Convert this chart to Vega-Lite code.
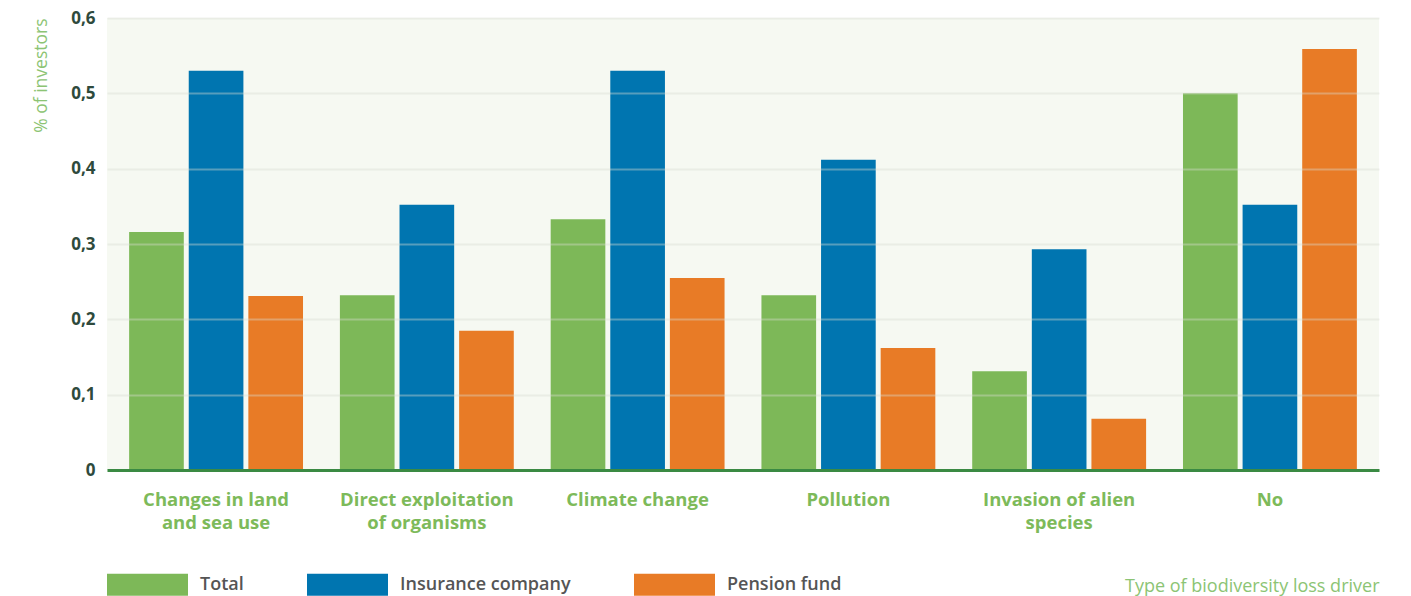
{
  "$schema": "https://vega.github.io/schema/vega-lite/v6.json",
  "width": 1272,
  "height": 452,
  "autosize": {"type": "none"},
  "padding": {"left": 107, "top": 18, "right": 32, "bottom": 126},
  "background": "#ffffff",
  "config": {
    "view": {"fill": "#f6f9f2", "stroke": null},
    "font": "Open Sans"
  },
  "data": {
    "values": [
      {"driver": "Changes in land and sea use", "type": "Total", "value": 0.316},
      {"driver": "Changes in land and sea use", "type": "Insurance company", "value": 0.53},
      {"driver": "Changes in land and sea use", "type": "Pension fund", "value": 0.231},
      {"driver": "Direct exploitation of organisms", "type": "Total", "value": 0.232},
      {"driver": "Direct exploitation of organisms", "type": "Insurance company", "value": 0.352},
      {"driver": "Direct exploitation of organisms", "type": "Pension fund", "value": 0.185},
      {"driver": "Climate change", "type": "Total", "value": 0.333},
      {"driver": "Climate change", "type": "Insurance company", "value": 0.53},
      {"driver": "Climate change", "type": "Pension fund", "value": 0.255},
      {"driver": "Pollution", "type": "Total", "value": 0.232},
      {"driver": "Pollution", "type": "Insurance company", "value": 0.412},
      {"driver": "Pollution", "type": "Pension fund", "value": 0.162},
      {"driver": "Invasion of alien species", "type": "Total", "value": 0.131},
      {"driver": "Invasion of alien species", "type": "Insurance company", "value": 0.293},
      {"driver": "Invasion of alien species", "type": "Pension fund", "value": 0.068},
      {"driver": "No", "type": "Total", "value": 0.5},
      {"driver": "No", "type": "Insurance company", "value": 0.352},
      {"driver": "No", "type": "Pension fund", "value": 0.559}
    ]
  },
  "mark": {"type": "bar"},
  "encoding": {
    "x": {
      "field": "driver",
      "type": "nominal",
      "sort": null,
      "scale": {"paddingInner": 0.175, "paddingOuter": 0.105},
      "axis": {
        "title": "Type of biodiversity loss driver",
        "titleAnchor": "end",
        "titleAlign": "right",
        "titleFont": "Open Sans",
        "titleFontSize": 18,
        "titleFontWeight": "normal",
        "titleColor": "#8cc474",
        "titlePadding": 46,
        "labelAngle": 0,
        "labelFont": "Open Sans",
        "labelFontSize": 18.5,
        "labelFontWeight": "bold",
        "labelColor": "#7dba5a",
        "labelPadding": 20,
        "labelLineHeight": 23,
        "labelExpr": "datum.value == 'Changes in land and sea use' ? ['Changes in land', 'and sea use'] : datum.value == 'Direct exploitation of organisms' ? ['Direct exploitation', 'of organisms'] : datum.value == 'Invasion of alien species' ? ['Invasion of alien', 'species'] : datum.value",
        "ticks": false,
        "domainColor": "#3a8a43",
        "domainWidth": 3,
        "zindex": 1
      }
    },
    "xOffset": {
      "field": "type",
      "type": "nominal",
      "sort": ["Total", "Insurance company", "Pension fund"],
      "scale": {"paddingInner": 0.083, "paddingOuter": 0}
    },
    "y": {
      "field": "value",
      "type": "quantitative",
      "scale": {"domain": [0, 0.6], "nice": false},
      "axis": {
        "title": "% of investors",
        "titleAnchor": "end",
        "titleFont": "Open Sans",
        "titleFontSize": 17.5,
        "titleFontWeight": "normal",
        "titleColor": "#8cc474",
        "titlePadding": 20,
        "values": [0, 0.1, 0.2, 0.3, 0.4, 0.5, 0.6],
        "labelExpr": "replace(format(datum.value, '.1~f'), '.', ',')",
        "labelFont": "Open Sans",
        "labelFontSize": 17,
        "labelFontWeight": "bold",
        "labelColor": "#2e4a3c",
        "labelPadding": 12,
        "ticks": false,
        "domain": false,
        "grid": true,
        "gridColor": "#d9ddd2",
        "gridOpacity": 0.4,
        "gridWidth": 2,
        "zindex": 1
      }
    },
    "color": {
      "field": "type",
      "type": "nominal",
      "sort": ["Total", "Insurance company", "Pension fund"],
      "scale": {
        "domain": ["Total", "Insurance company", "Pension fund"],
        "range": ["#7db858", "#0075b0", "#e87b26"]
      },
      "legend": {
        "title": null,
        "orient": "none",
        "direction": "horizontal",
        "legendX": 0,
        "legendY": 526,
        "padding": 0,
        "symbolType": "M-1,-0.2716H1V0.2716H-1Z",
        "symbolSize": 6561,
        "symbolStrokeWidth": 0,
        "symbolOpacity": 1,
        "labelOffset": 12,
        "labelLimit": 400,
        "labelFont": "Open Sans",
        "labelFontSize": 18,
        "labelFontWeight": 600,
        "labelColor": "#555555",
        "columnPadding": 63
      }
    }
  }
}
